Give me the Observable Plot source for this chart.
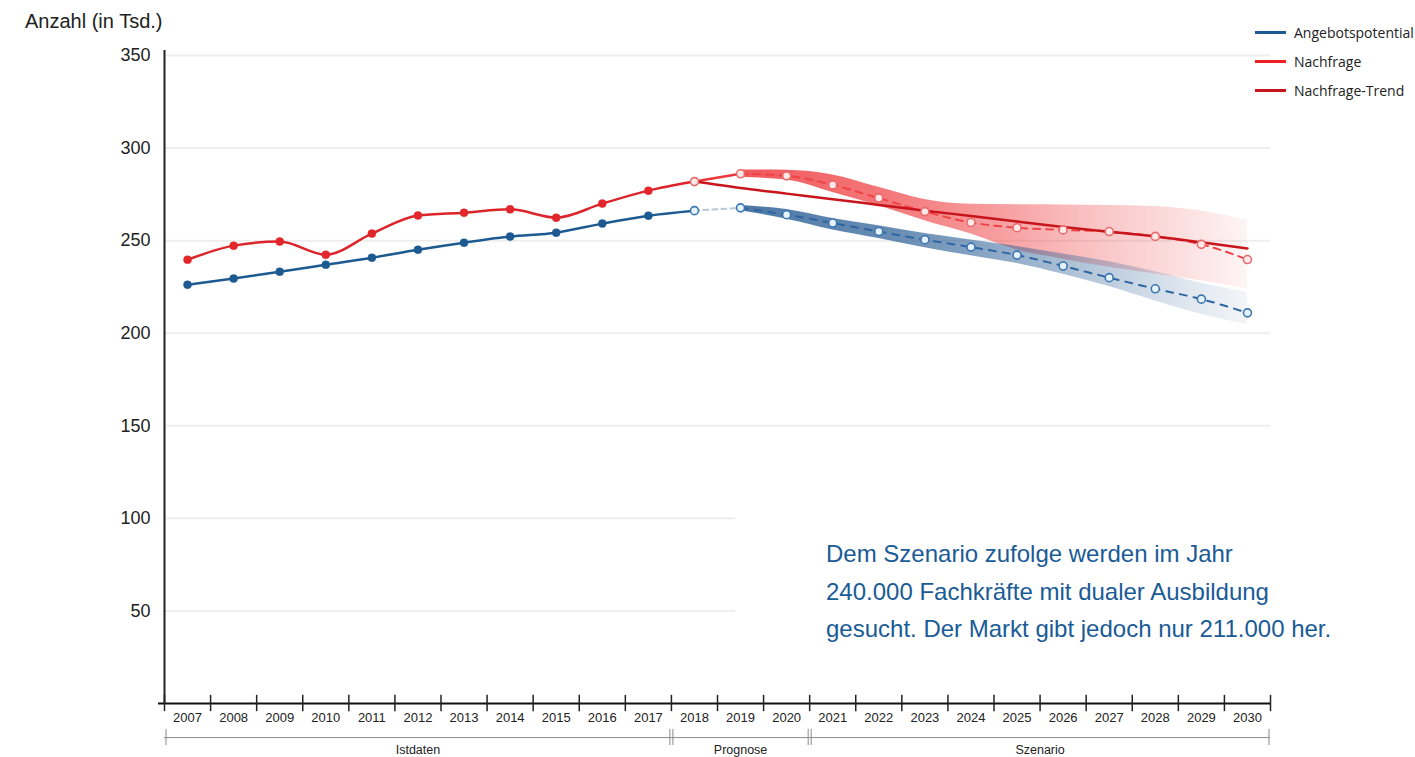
<!DOCTYPE html>
<html><head><meta charset="utf-8">
<script src="https://cdn.jsdelivr.net/npm/d3@7"></script>
<script src="https://cdn.jsdelivr.net/npm/@observablehq/plot@0.6"></script>
<style>
body{margin:0;background:#fff;}
#wrap{position:relative;width:1415px;height:757px;overflow:hidden;font-family:"Liberation Sans",Arial,sans-serif;}
#wrap svg{position:absolute;left:0;top:0;}
#title{position:absolute;left:25px;top:10px;font-size:20px;color:#222;white-space:nowrap;}
#legend{position:absolute;left:1255px;top:18px;font-family:"Open Sans",sans-serif;font-size:14px;color:#222;}
.li{display:flex;align-items:center;height:29px;white-space:nowrap;}
.sw{width:31px;height:2.5px;margin-right:8px;}
#note{position:absolute;left:735px;top:505px;width:680px;height:145px;background:#fff;box-sizing:border-box;padding:30px 0 0 91px;font-size:24px;line-height:37.5px;color:#1a5b96;white-space:nowrap;}
</style></head>
<body>
<div id="wrap">
  <div id="title"></div>
  <div id="legend"></div>
  <div id="note"></div>
</div>
<script>
// ---- data ----
const years = [2007,2008,2009,2010,2011,2012,2013,2014,2015,2016,2017,2018,2019,2020,2021,2022,2023,2024,2025,2026,2027,2028,2029,2030];
const angebot = [226.2,229.5,233.2,237.0,240.8,245.1,248.9,252.2,254.3,259.2,263.5,266.2,267.7,264.0,259.5,254.9,250.5,246.5,242.2,236.3,230.0,224.0,218.4,211.0];
const nachfrage = [239.7,247.3,249.5,242.4,253.8,263.6,265.1,266.9,262.4,270.0,277.0,281.9,286.1,285.0,280.1,273.0,265.7,259.8,257.0,255.8,254.9,252.3,248.0,239.8];
const trendYears = [2018,2019,2020,2021,2022,2023,2024,2025,2026,2027,2028,2029,2030];
const nachfrageTrend = [281.9,278.4,275.4,272.4,269.3,266.2,263.3,260.3,257.4,254.8,252.2,249.1,245.8];
const bandYears = [2019,2020,2021,2022,2023,2024,2025,2026,2027,2028,2029,2030];
const nachfrageHi = [288.2,288.0,285.5,278.8,272.2,269.6,269.4,269.3,269.0,268.5,266.0,261.0];
const nachfrageLo = [284.2,282.7,276.0,268.8,260.8,253.6,245.0,240.0,235.6,232.0,228.4,224.0];
const angebotHi = [269.0,266.8,262.0,258.0,253.8,250.4,246.8,242.8,238.6,233.2,227.0,222.0];
const angebotLo = [266.2,261.6,255.8,251.2,246.2,241.8,237.6,231.8,225.2,217.4,210.2,204.6];
const yTicks = [50,100,150,200,250,300,350];
const groups = [
  {name:"Istdaten", start:2006.5, end:2017.5},
  {name:"Prognose", start:2017.5, end:2020.5},
  {name:"Szenario", start:2020.5, end:2030.5}
];
const series = [
  {name:"Angebotspotential", color:"#1d5a91"},
  {name:"Nachfrage", color:"#f01e23"},
  {name:"Nachfrage-Trend", color:"#c8141b"}
];
const titleText = "Anzahl (in Tsd.)";
const noteLines = [
  "Dem Szenario zufolge werden im Jahr",
  "240.000 Fachkräfte mit dualer Ausbildung",
  "gesucht. Der Markt gibt jedoch nur 211.000 her."
];

// ---- derived tables ----
const rows = years.map((year,i)=>({year, angebot:angebot[i], nachfrage:nachfrage[i]}));
const hist = rows.filter(d=>d.year<=2018);
const histPts = rows.filter(d=>d.year<=2017);
const fcPts = rows.filter(d=>d.year>=2018);
const bridge = rows.filter(d=>d.year>=2018 && d.year<=2019);
const fc = rows.filter(d=>d.year>=2019);
const trend = trendYears.map((year,i)=>({year, v:nachfrageTrend[i]}));
const band = bandYears.map((year,i)=>({year, nHi:nachfrageHi[i], nLo:nachfrageLo[i], aHi:angebotHi[i], aLo:angebotLo[i]}));
const boundaries = years.map(y=>y-0.5).concat([years[years.length-1]+0.5]);

const cv = "monotone-x";
const chart = Plot.plot({
  width:1415, height:757,
  marginLeft:164, marginRight:145, marginTop:55, marginBottom:54,
  x:{domain:[2006.5,2030.5]},
  y:{domain:[0,350]},
  style:{fontFamily:"'Liberation Sans', Arial, sans-serif", color:"#222", background:"transparent"},
  marks:[
    Plot.gridY(yTicks, {stroke:"#eeeeee", strokeOpacity:1, strokeWidth:2}),
    Plot.areaY(band, {x:"year", y1:"nLo", y2:"nHi", fill:"url(#gradRed)", curve:cv}),
    Plot.areaY(band, {x:"year", y1:"aLo", y2:"aHi", fill:"url(#gradBlue)", curve:cv}),
    // Angebotspotential
    Plot.line(hist, {x:"year", y:"angebot", stroke:"#1d5a91", strokeWidth:2.5, curve:cv}),
    Plot.line(bridge, {x:"year", y:"angebot", stroke:"#b9c9da", strokeWidth:2, strokeDasharray:"5,4"}),
    Plot.line(fc, {x:"year", y:"angebot", stroke:"#2f65a0", strokeWidth:2, strokeDasharray:"7,7", curve:cv}),
    // Nachfrage
    Plot.line(hist, {x:"year", y:"nachfrage", stroke:"#dc252a", strokeWidth:2.5, curve:cv}),
    Plot.line(bridge, {x:"year", y:"nachfrage", stroke:"#e8383c", strokeWidth:2.5}),
    Plot.line(fc, {x:"year", y:"nachfrage", stroke:"#ef4346", strokeWidth:2, strokeDasharray:"7,6", curve:cv}),
    // Trend
    Plot.line(trend, {x:"year", y:"v", stroke:"#c8141b", strokeWidth:2.5, curve:cv}),
    // points
    Plot.dot(histPts, {x:"year", y:"angebot", r:4, fill:"#1d5a91", stroke:"#1d5a91", strokeWidth:0.5}),
    Plot.dot(histPts, {x:"year", y:"nachfrage", r:4, fill:"#e3262b", stroke:"#e3262b", strokeWidth:0.5}),
    Plot.dot(fcPts, {x:"year", y:"angebot", r:4, fill:"#e6f3fc", stroke:"#3d77b2", strokeWidth:1.6}),
    Plot.dot(fcPts, {x:"year", y:"nachfrage", r:4, fill:"#fde9e9", stroke:"#e86a6c", strokeWidth:1.6}),
    // axes
    Plot.axisY(yTicks, {tickSize:0, tickPadding:14, fontSize:18, label:null, fill:"#222"}),
    Plot.ruleX([2006.5], {y1:0, y2:352.7, stroke:"#222", strokeWidth:2}),
    Plot.ruleY([0], {x1:2006.37, x2:2030.5, stroke:"#111", strokeWidth:2}),
    Plot.ruleX(boundaries, {y1:-4.4, y2:4.4, stroke:"#222", strokeWidth:1.5}),
    Plot.axisX(years, {tickSize:0, tickPadding:9, fontSize:13, label:null, tickFormat:d=>String(d), fill:"#222"}),
    // group brackets
    Plot.ruleY(groups, {y:-18.4, x1:"start", x2:"end", stroke:"#8a8a8a", strokeWidth:1}),
    Plot.ruleX(groups, {x:"start", y1:-14, y2:-22.7, dx:1.5, stroke:"#8a8a8a", strokeWidth:1}),
    Plot.ruleX(groups, {x:"end", y1:-14, y2:-22.7, dx:-1.5, stroke:"#8a8a8a", strokeWidth:1}),
    Plot.text(groups, {x:d=>(d.start+d.end)/2, y:-25.0, text:"name", fontSize:12.5, fill:"#222"})
  ]
});

// gradients for the bands
const svg = d3.select(chart);
const defs = svg.insert("defs", ":first-child");
function grad(id, color, stops){
  const g = defs.append("linearGradient").attr("id", id).attr("x1","0").attr("x2","1").attr("y1","0").attr("y2","0");
  stops.forEach(([o,a])=>g.append("stop").attr("offset",o).attr("stop-color",color).attr("stop-opacity",a));
}
grad("gradRed", "#ee3a3d", [[0,0.85],[0.3,0.68],[0.5,0.5],[0.7,0.3],[0.85,0.18],[1,0.05]]);
grad("gradBlue", "#2d6096", [[0,0.85],[0.3,0.72],[0.5,0.55],[0.7,0.34],[0.85,0.18],[1,0.06]]);

const wrap = document.getElementById("wrap");
wrap.insertBefore(chart, wrap.firstChild);

document.getElementById("title").textContent = titleText;
const legend = d3.select("#legend");
series.forEach(s=>{
  const it = legend.append("div").attr("class","li");
  it.append("div").attr("class","sw").style("background", s.color);
  it.append("span").text(s.name);
});
const note = d3.select("#note");
noteLines.forEach(l=>note.append("div").text(l));
</script>
</body></html>
